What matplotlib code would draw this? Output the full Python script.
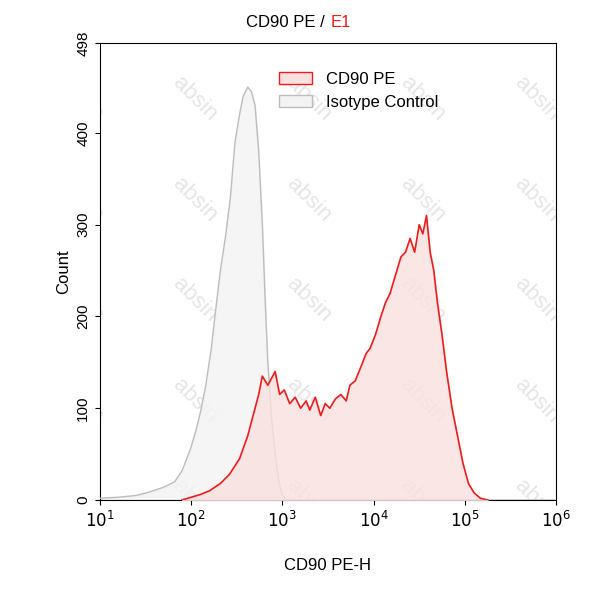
import matplotlib
matplotlib.use("Agg")
import matplotlib.pyplot as plt
import numpy as np
plt.rcParams['font.family'] = ['Liberation Sans', 'DejaVu Sans']

iso_logx = [1.0,1.2,1.4,1.55,1.7,1.82,1.9,1.99,2.05,2.1,2.16,2.22,2.26,2.32,2.38,2.43,2.48,2.53,2.57,2.62,2.66,2.70,2.74,2.78,2.81,2.84,2.88,2.92,2.96,3.0,3.05,6.0]
iso_cnt  = [2,3,5,9,14,20,32,55,75,95,125,165,200,250,290,330,390,420,440,450,445,430,380,300,220,150,90,50,20,5,0,0]

cd_logx = [1.9,2.0,2.1,2.2,2.32,2.42,2.53,2.62,2.70,2.74,2.78,2.84,2.92,2.97,3.02,3.08,3.14,3.2,3.26,3.3,3.36,3.42,3.47,3.52,3.58,3.64,3.7,3.74,3.8,3.86,3.92,3.96,4.02,4.08,4.13,4.18,4.24,4.3,4.35,4.4,4.45,4.5,4.54,4.58,4.62,4.66,4.70,4.75,4.8,4.86,4.92,4.98,5.04,5.1,5.17,5.25]
cd_cnt  = [0,3,6,10,18,28,45,70,100,115,135,125,140,115,120,105,112,100,108,98,112,92,105,100,110,115,108,125,130,145,160,165,180,200,215,225,245,265,270,285,270,300,290,310,270,250,215,180,140,100,70,40,18,8,2,0]

fig = plt.figure(figsize=(5.93,6.0), dpi=100)
ax = fig.add_axes([100/593, 100/600, 456/593, 457/600])
for x in np.arange(-0.1, 1.1, 0.25):
    for y in np.arange(-0.05, 1.05, 0.22):
        ax.text(x, y, "absin", rotation=-45, fontsize=16, color="#e6e6e6",
                transform=ax.transAxes, zorder=0, clip_on=True)
ix = 10**np.array(iso_logx); cx = 10**np.array(cd_logx)
ax.fill_between(ix, iso_cnt, color="#f3f3f3", alpha=0.8, zorder=2)
ax.plot(ix, iso_cnt, color="#bdbdbd", lw=1, zorder=3)
ax.fill_between(cx, cd_cnt, color="#fbe0e0", alpha=0.8, zorder=4)
ax.plot(cx, cd_cnt, color="#ee1c1c", lw=1.2, zorder=5)
ax.set_xscale("log"); ax.set_xlim(10, 1e6); ax.set_ylim(0, 498)
ax.set_yticks([0,100,200,300,400,498])
ax.set_xticks([10**k for k in range(1,7)])
ax.set_xticklabels([f"$10^{k}$" for k in range(1,7)], fontsize=12)
ax.minorticks_off()
ax.tick_params(axis="y", rotation=90, labelsize=11)
for l in ax.get_yticklabels(): l.set_va("center")
ax.set_xlabel("CD90 PE-H", fontsize=12, labelpad=20)
ax.set_ylabel("Count", fontsize=12)
ax.patch.set_alpha(0)
from matplotlib.patches import Patch
ax.legend(handles=[Patch(facecolor="#fbe0e0", edgecolor="#ee1c1c", label="CD90 PE"),
                   Patch(facecolor="#f3f3f3", edgecolor="#bdbdbd", label="Isotype Control")],
          loc="upper left", bbox_to_anchor=(0.36, 0.97), frameon=False, fontsize=12)
fig.text(0.555, 0.955, "CD90 PE / ", ha="right", fontsize=12)
fig.text(0.557, 0.955, "E1", ha="left", fontsize=12, color="#ee1c1c")
fig.savefig("out.png", dpi=100)
